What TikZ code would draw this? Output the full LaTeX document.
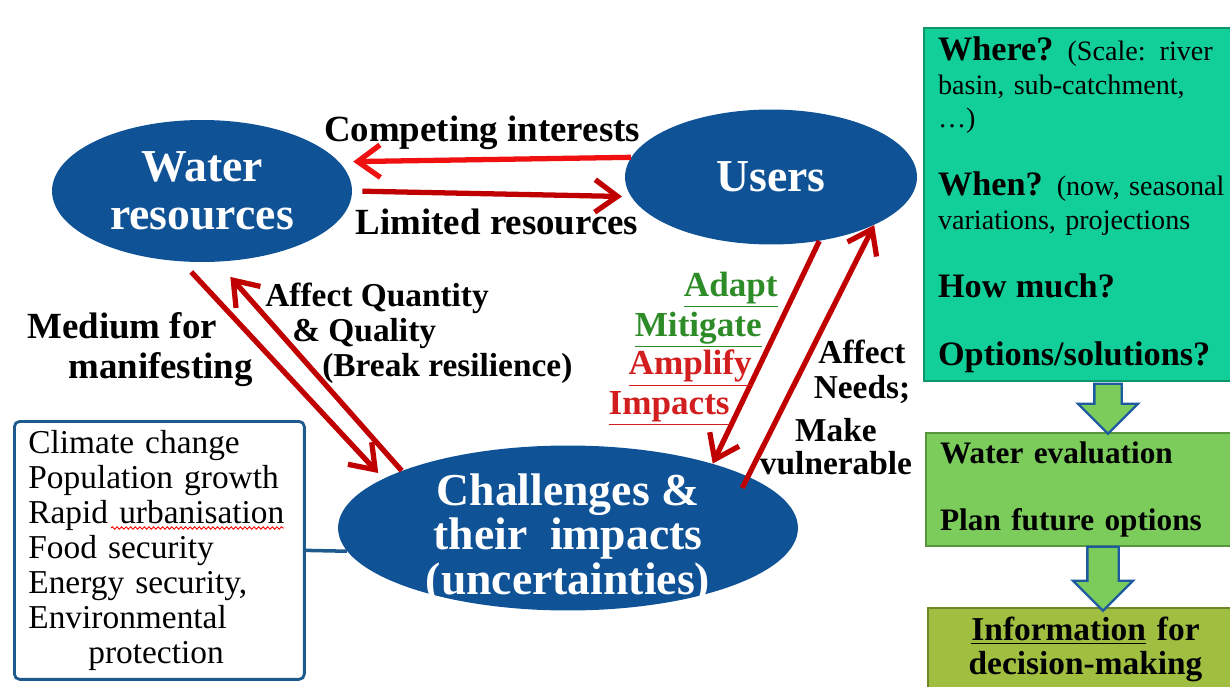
\documentclass[tikz,border=0pt]{standalone}
\usepackage{fontspec}
\setmainfont{Liberation Serif}
\usepackage{xcolor}
\usetikzlibrary{shapes.geometric, shapes.arrows, arrows.meta, positioning,
                decorations.pathmorphing}

\definecolor{hubblue}{RGB}{15,82,150}
\definecolor{brightred}{RGB}{240,16,16}
\definecolor{darkred}{RGB}{192,0,0}
\definecolor{adaptgreen}{RGB}{46,140,40}
\definecolor{ampred}{RGB}{210,30,30}
\definecolor{tealfill}{RGB}{18,206,152}
\definecolor{tealedge}{RGB}{14,150,105}
\definecolor{evalgreen}{RGB}{124,204,92}
\definecolor{evaledge}{RGB}{88,150,60}
\definecolor{infoolive}{RGB}{160,190,64}
\definecolor{infoedge}{RGB}{110,135,40}
\definecolor{boxblue}{RGB}{30,90,140}
\definecolor{fatblue}{RGB}{30,90,160}

\newcommand\qhead[1]{{\fontsize{19.5}{19.3}\selectfont\bfseries #1}}

\begin{document}
\begin{tikzpicture}[
    x=0.02cm, y=-0.02cm,
    hub/.style={ellipse, fill=hubblue, inner sep=0pt, text=white, align=center,
                font=\bfseries\fontsize{26}{27}\selectfont},
    lbl/.style={inner sep=0pt, align=left, font=\bfseries\fontsize{20}{20}\selectfont},
    bigarr/.style={-{Straight Barb[length=4.5mm, width=6.5mm]}, line width=3pt, darkred},
    panel/.style={rectangle, anchor=north west, align=left, inner xsep=0.28cm,
                  inner ysep=0pt, text width=6.4cm, minimum width=6.3cm, line width=1.2pt},
    fat/.style={single arrow, rotate=-90, draw=fatblue, fill=evalgreen, line width=1.3pt,
                inner xsep=0pt, inner ysep=0.25cm, single arrow head extend=0.33cm},
]
\useasboundingbox (0,0) rectangle (1230,686);
\clip (0,0) rectangle (1230,686);

%% Three hubs
\node[hub, minimum width=6cm, minimum height=2.84cm] (water) at (202,191) {Water\\resources};
\node[hub, minimum width=5.84cm, minimum height=2.7cm] (users) at (771,177) {Users};
\node[hub, minimum width=9.2cm, minimum height=3.3cm,
      label={[hub, fill=none, yshift=-0.22cm, font=\bfseries\fontsize{26}{25.6}\selectfont]
             center:{Challenges \&\\their\ \ impacts\\(uncertainties)}}]
      (chal) at (568,528) {};

%% Drivers box
\node[panel, draw=boxblue, line width=1.6pt, rounded corners=3pt, minimum width=5.8cm,
      text width=5.24cm, minimum height=5.16cm, font=\fontsize{19}{19.9}\selectfont]
      (drivers) at (13,420)
      {Climate change\\Population growth\\Rapid urbanisation\\Food security\\
       Energy security,\\Environmental\\\hspace*{1.2cm}protection};
\draw[red, line width=0.5pt, decorate, decoration={snake, amplitude=0.7pt, segment length=2.6pt}]
      (111,528) -- (284,528);
\draw[boxblue, line width=2pt] (drivers.east) -- (chal.186);

%% Right column
\node[panel, draw=tealedge, fill=tealfill, minimum height=7.06cm,
      font=\fontsize{16}{19.3}\selectfont] (ask) at (923,27)
      {\qhead{Where?} (Scale: river\\basin, sub-catchment,\\\ldots)\\[19.3pt]
       \qhead{When?} (now, seasonal\\variations, projections\\[19.3pt]
       \qhead{How much?}\\[19.3pt]
       \qhead{Options/solutions?}};
\node[panel, draw=evaledge, fill=evalgreen, minimum height=2.26cm,
      font=\bfseries\fontsize{17.8}{19}\selectfont,
      below right=1cm and 0.04cm of ask.south west] (eval)
      {Water evaluation\\[19pt]Plan future options};
\node[panel, text width=5.74cm, align=center, draw=infoedge, fill=infoolive, minimum height=1.66cm,
      font=\bfseries\fontsize{19}{19.6}\selectfont,
      below right=1.2cm and 0.04cm of eval.south west] (info)
      {\underline{Information} for\\decision-making};
\node[fat, minimum height=1cm] (down1) at (1108,402) {};
\node[fat, minimum height=1.28cm, single arrow head extend=0.29cm, inner ysep=0.29cm]
      (down2) at (1103,571) {};

%% Arrows between hubs
\draw[bigarr, brightred, shorten >=0.28cm] (users.172) -- (water.12);
\draw[bigarr, shorten <=0.2cm, shorten >=0.18cm] (water.east) -- (users.188);
\draw[bigarr, shorten <=0.28cm, shorten >=0.15cm] (water.254) -- (chal.165);
\draw[bigarr, shorten >=0.4cm] (chal.161) -- (water.282);
\draw[bigarr] (users.307) -- (chal.24);
\draw[bigarr, shorten <=-0.26cm] (chal.16) -- (users.335);

%% Labels
\node[lbl, font=\bfseries\fontsize{21}{21}\selectfont] (comp) at (482,133) {Competing interests};
\node[lbl, font=\bfseries\fontsize{21}{21}\selectfont] (lim) at (497,222) {Limited resources};
\node[lbl, anchor=west, font=\bfseries\fontsize{21}{22.8}\selectfont] (medium) at (27,350)
      {Medium for\\\hspace*{0.82cm}manifesting};
\node[lbl, anchor=west, font=\bfseries\fontsize{19}{20}\selectfont] (affq) at (265,333)
      {Affect Quantity\\\hspace*{0.54cm}\& Quality\\\hspace*{1.14cm}(Break resilience)};
\node[lbl, anchor=east, text=adaptgreen] (adapt) at (778,290) {\underline{Adapt}};
\node[lbl, anchor=east, text=adaptgreen] (mitig) at (762,330) {\underline{Mitigate}};
\node[lbl, anchor=east, text=ampred] (ampl) at (752,368) {\underline{Amplify}};
\node[lbl, anchor=east, text=ampred] (impct) at (730,408) {\underline{Impacts}};
\node[lbl, align=center, font=\bfseries\fontsize{19}{20}\selectfont] (needs) at (862,372) {Affect\\Needs;};
\node[lbl, align=center, font=\bfseries\fontsize{19}{18.8}\selectfont] (vuln) at (836,447) {Make\\vulnerable};
\end{tikzpicture}
\end{document}
